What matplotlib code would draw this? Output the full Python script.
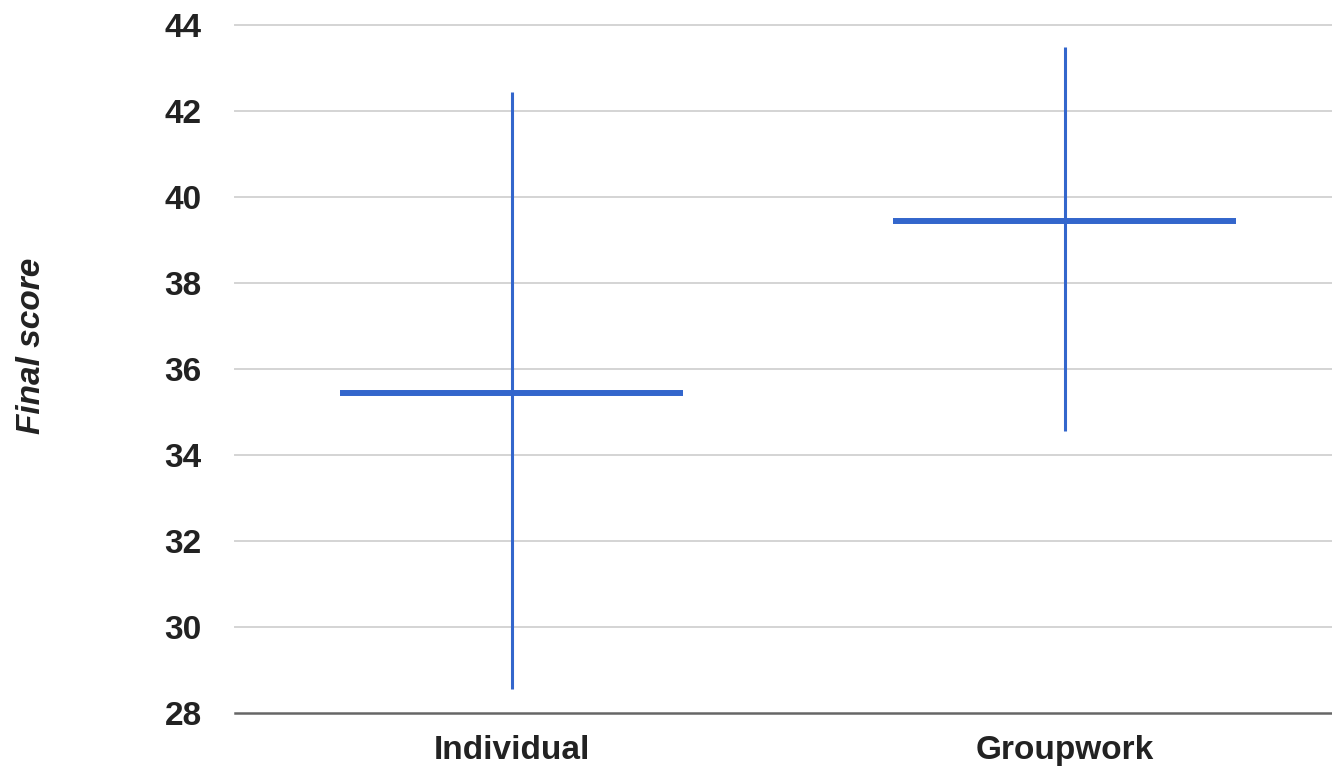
import matplotlib.pyplot as plt
import numpy as np

# categories and summary values
categories = ['Individual', 'Groupwork']
means = [35.45, 39.45]
lows = [28.55, 34.55]
highs = [42.45, 43.5]
y_ticks = [28, 30, 32, 34, 36, 38, 40, 42, 44]

plt.rcParams['font.family'] = ['Liberation Sans', 'DejaVu Sans']

blue = '#3366CC'
text_col = '#222222'

fig = plt.figure(figsize=(13.32, 7.71), dpi=100)
ax = fig.add_axes([235 / 1332, 1 - 713 / 771, 1 - 235 / 1332, (713 - 25) / 771])

x = np.arange(len(categories))
half_w = 0.31

# range lines
ax.vlines(x, lows, highs, color=blue, lw=2.2, zorder=3)
# mean markers
ax.hlines(means, x - half_w, x + half_w, color=blue, lw=4.3, zorder=3)

ax.set_xlim(-0.5, 1.5 - 9 / 553)
ax.set_ylim(28, 44)
ax.set_yticks(y_ticks)
ax.set_yticklabels([str(t) for t in y_ticks])
ax.set_xticks(x)
ax.set_xticklabels(categories)

for t in y_ticks[1:]:
    ax.axhline(t, color='#d4d4d4', lw=1.4, zorder=1, clip_on=False)

for s in ['top', 'right', 'left']:
    ax.spines[s].set_visible(False)
ax.spines['bottom'].set_color('#666666')
ax.spines['bottom'].set_linewidth(1.8)

ax.tick_params(axis='y', length=0, pad=24, labelsize=24, labelcolor=text_col)
ax.tick_params(axis='x', length=0, pad=16, labelsize=24, labelcolor=text_col)
for lab in ax.get_xticklabels() + ax.get_yticklabels():
    lab.set_fontweight('bold')

fig.text(32 / 1332, 1 - 346 / 771, 'Final score', rotation=90, ha='center', va='center',
         fontsize=24, fontweight='bold', fontstyle='italic', color=text_col)

fig.savefig('out.png', dpi=100)
